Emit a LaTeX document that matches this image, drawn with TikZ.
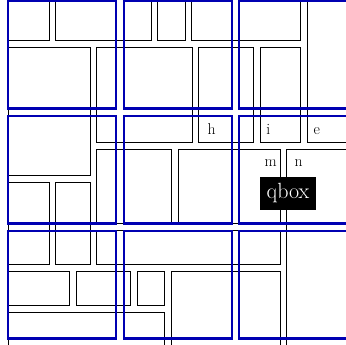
\documentclass[tikz,border=0pt]{standalone}
\definecolor{gridblue}{RGB}{0,0,178}
\tikzset{
  boxline/.style={draw=black, line width=0.8pt},
  pagesq/.style={draw=gridblue, line width=2.3pt},
  letter/.style={inner sep=0pt, font=\fontsize{15.7}{18}\selectfont},
  qboxstyle/.style={fill=black, text=white, inner sep=0pt, minimum width=56pt, minimum height=33.3pt, font=\fontsize{22}{26}\selectfont}
}
\begin{document}
\begin{tikzpicture}[x=1pt,y=-1pt]
\useasboundingbox (0,0) rectangle (346,345);
\clip (0,0) rectangle (346,345);
% boxes
\draw[boxline] (8.2,-5) rectangle (49.3,40.7);
\draw[boxline] (55.7,-5) rectangle (151,40.7);
\draw[boxline] (157.7,-5) rectangle (185,40.7);
\draw[boxline] (191.7,-5) rectangle (300.7,40.7);
\draw[boxline] (307.3,-5) rectangle (355,142.3);
\draw[boxline] (8.2,47.3) rectangle (90,175.7);
\draw[boxline] (96.7,47.3) rectangle (192.3,142.3);
\draw[boxline] (198.3,47.3) rectangle (253.3,142.3);
\draw[boxline] (260,47.3) rectangle (300.7,142.3);
\draw[boxline] (96.7,149) rectangle (171,223.5);
\draw[boxline] (178.3,149) rectangle (280,223.5);
\draw[boxline] (286.7,149) rectangle (355,355);
\draw[boxline] (8.2,182.7) rectangle (49.3,264.3);
\draw[boxline] (55.7,182.7) rectangle (90,264.3);
\draw[boxline] (96.7,230) rectangle (280,264.3);
\draw[boxline] (8.2,271) rectangle (69.3,305);
\draw[boxline] (76,271) rectangle (130.7,305);
\draw[boxline] (137.3,271) rectangle (164.3,305);
\draw[boxline] (8.2,312.3) rectangle (164.3,355);
\draw[boxline] (171,271) rectangle (280,355);
% letters
\node[letter, anchor=base west] (lh) at (207.5,135) {h};
\node[letter, anchor=base west] (li) at (266.2,134.5) {i};
\node[letter, anchor=base west] (le) at (313.5,134.5) {e};
\node[letter, anchor=base east] (lm) at (277,166.7) {m};
\node[letter, anchor=base west] (ln) at (294.5,166.7) {n};
\node[qboxstyle] (qb) at (288,193.4) {qbox};
% page squares
\foreach \cx in {8.2,124.2,239.2}{
  \foreach \cy in {0.8,115.7,230.7}{
    \draw[pagesq] (\cx,\cy) rectangle ++(108,107.8);
  }
}
\end{tikzpicture}
\end{document}
